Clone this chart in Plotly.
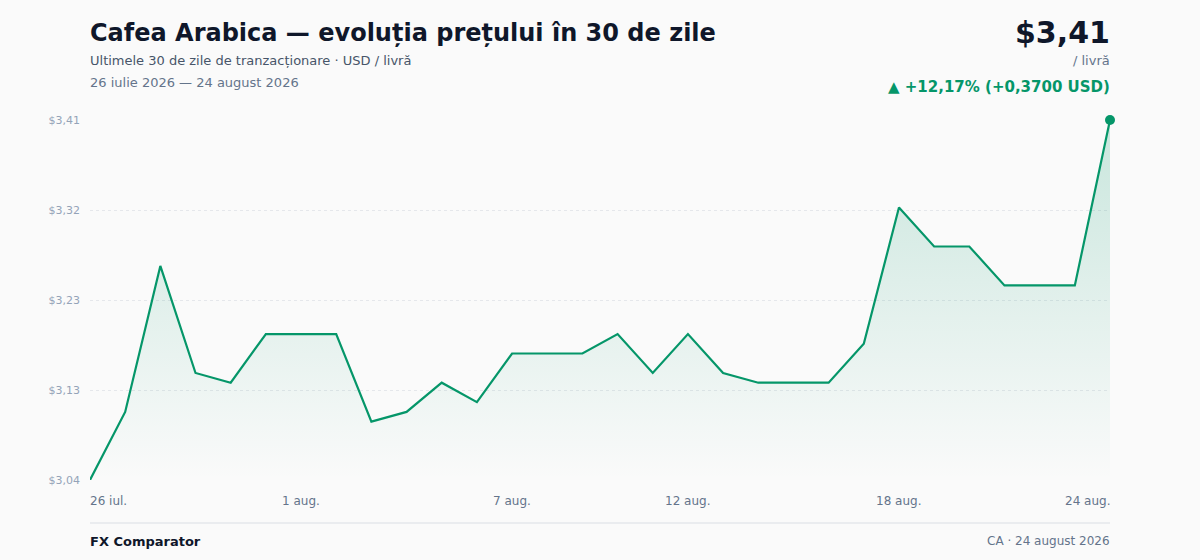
import plotly.graph_objects as go
import pandas as pd

# prices, USD / livra, 26 iul. - 24 aug. 2026
dates = pd.date_range("2026-07-26", "2026-08-24", freq="D")
prices = [3.04, 3.11, 3.26, 3.15, 3.14, 3.19, 3.19, 3.19, 3.10, 3.11,
          3.14, 3.12, 3.17, 3.17, 3.17, 3.19, 3.15, 3.19, 3.15, 3.14,
          3.14, 3.14, 3.18, 3.32, 3.28, 3.28, 3.24, 3.24, 3.24, 3.41]

y_ticks = [3.04, 3.1325, 3.225, 3.3175, 3.41]
y_labels = ["$3,04", "$3,13", "$3,23", "$3,32", "$3,41"]

x_tick_idx = [0, 6, 12, 17, 23, 29]
x_labels = ["26 iul.", "1 aug.", "7 aug.", "12 aug.", "18 aug.", "24 aug."]

GREEN = "#059669"
FONT = "DejaVu Sans"

def py(px):
    # pixel row -> paper y (plot area is rows 120..480)
    return (480 - px) / 360

fig = go.Figure()

# baseline for the area fill
fig.add_trace(go.Scatter(x=dates, y=[y_ticks[0]] * len(dates), mode="lines",
                         line=dict(width=0), hoverinfo="skip", showlegend=False))

fig.add_trace(go.Scatter(
    x=dates, y=prices, mode="lines", fill="tonexty",
    line=dict(color=GREEN, width=2.2),
    fillgradient=dict(type="vertical", start=y_ticks[0], stop=y_ticks[-1],
                      colorscale=[[0, "rgba(5,150,105,0.0)"],
                                  [1, "rgba(5,150,105,0.2)"]]),
    showlegend=False))

fig.add_trace(go.Scatter(x=[dates[-1]], y=[prices[-1]], mode="markers",
                         marker=dict(color=GREEN, size=10), cliponaxis=False,
                         showlegend=False))

ann = []
for i, lab in zip(x_tick_idx, x_labels):
    anchor = "left" if i == 0 else ("right" if i == len(dates) - 1 else "center")
    shift = {"left": -2, "right": 2, "center": 0}[anchor]
    ann.append(dict(x=dates[i], y=py(501), xref="x", yref="paper", text=lab,
                    showarrow=False, xanchor=anchor, yanchor="middle", xshift=shift,
                    font=dict(size=12, color="#64748b", family=FONT)))

ann += [
    dict(x=0, y=py(33), text="<b>Cafea Arabica — evoluția prețului în 30 de zile</b>",
         font=dict(size=24, color="#0f172a", family=FONT)),
    dict(x=0, y=py(61), text="Ultimele 30 de zile de tranzacționare · USD / livră",
         font=dict(size=13, color="#475569", family=FONT)),
    dict(x=0, y=py(83), text="26 iulie 2026 — 24 august 2026",
         font=dict(size=13, color="#64748b", family=FONT)),
    dict(x=1, y=py(32), text="<b>$3,41</b>", xanchor="right",
         font=dict(size=30, color="#0f172a", family=FONT)),
    dict(x=1, y=py(61), text="/ livră", xanchor="right",
         font=dict(size=13, color="#64748b", family=FONT)),
    dict(x=1, y=py(87), text="<b>▲ +12,17% (+0,3700 USD)</b>", xanchor="right",
         font=dict(size=15, color=GREEN, family=FONT)),
    dict(x=0, y=py(541), text="<b>FX Comparator</b>",
         font=dict(size=13, color="#0f172a", family=FONT)),
    dict(x=1, y=py(541), text="CA · 24 august 2026", xanchor="right",
         font=dict(size=12, color="#64748b", family=FONT)),
]
for a in ann[len(x_labels):]:
    a.setdefault("xanchor", "left")
    a.update(xref="paper", yref="paper", showarrow=False, yanchor="middle",
             xshift=-2 if a["xanchor"] == "left" else 2)

fig.update_layout(
    width=1200, height=560,
    margin=dict(l=90, r=90, t=120, b=80),
    paper_bgcolor="#fafafa", plot_bgcolor="#fafafa",
    font=dict(family=FONT),
    annotations=ann,
    shapes=[dict(type="line", xref="paper", yref="paper", x0=0, x1=1,
                 y0=py(523), y1=py(523), line=dict(color="#e5e7eb", width=1.5))],
    xaxis=dict(range=[dates[0], dates[-1]], showgrid=False, showticklabels=False,
               zeroline=False, showline=False),
    yaxis=dict(range=[y_ticks[0], y_ticks[-1]], tickvals=y_ticks, ticktext=y_labels,
               showgrid=True, gridcolor="#e5e7eb", griddash="dot", gridwidth=1,
               zeroline=False, showline=False, ticks="", ticklabelstandoff=9,
               tickfont=dict(size=11, color="#94a3b8", family=FONT)),
)

fig.write_html("out.html", config={"displayModeBar": False},
               post_script="document.body.style.margin='0';"
                           "document.body.style.background='#fafafa';")
